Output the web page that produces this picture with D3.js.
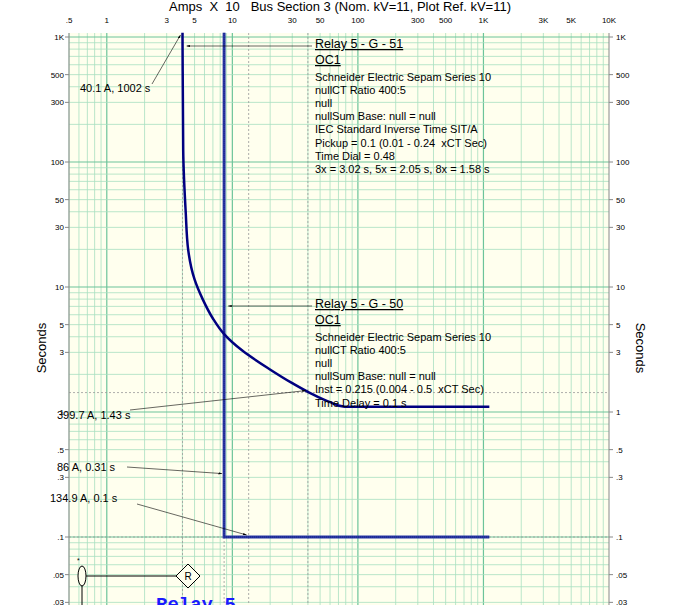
<!DOCTYPE html>
<html><head><meta charset="utf-8">
<script src="https://cdn.jsdelivr.net/npm/d3@7"></script>
<style>body{margin:0;background:#fff}</style>
</head><body>
<script>
// data (amps x 10, seconds)
var xTicks = [0.5,1,3,5,10,30,50,100,300,500,1000,3000,5000,10000];
var xTickLabels = [".5","1","3","5","10","30","50","100","300","500","1K","3K","5K","10K"];
var yTicks = [1000,500,300,100,50,30,10,5,3,1,0.5,0.3,0.1,0.05,0.03];
var yTickLabels = ["1K","500","300","100","50","30","10","5","3","1",".5",".3",".1",".05",".03"];
var curve51 = [[4.01,1080],[4.01,1002],[4.03,400],[4.06,125],[4.25,40],[4.45,19.8],[5.0,11.5],[5.8,8.0],[7.0,5.6],[8.6,4.2],[12,3.1],[19.8,2.2],[30,1.7],[41,1.43],[60,1.2],[78.5,1.1],[1114,1.1]];
var curve50 = [[8.6,1080],[8.6,0.1],[1114,0.1]];
var block51 = ["Schneider Electric Sepam Series 10","nullCT Ratio 400:5","null","nullSum Base: null = null","IEC Standard Inverse Time SIT/A","Pickup = 0.1 (0.01 - 0.24  xCT Sec)","Time Dial = 0.48","3x = 3.02 s, 5x = 2.05 s, 8x = 1.58 s"];
var block50 = ["Schneider Electric Sepam Series 10","nullCT Ratio 400:5","null","nullSum Base: null = null","Inst = 0.215 (0.004 - 0.5  xCT Sec)","Time Delay = 0.1 s"];
var callouts = [
  {text:"40.1 A, 1002 s", a:4.01, t:1002, lx:80, ly:92, sx:152, sy:84},
  {text:"399.7 A, 1.43 s", a:39.97, t:1.43, lx:57, ly:419, sx:130, sy:410},
  {text:"86 A, 0.31 s", a:8.6, t:0.31, lx:57, ly:471, sx:127, sy:467},
  {text:"134.9 A, 0.1 s", a:13.49, t:0.1, lx:50, ly:502, sx:137, sy:504}
];

var W = 700, H = 605;
var x = d3.scaleLog().domain([0.5,10000]).range([69,609]);
var y = d3.scaleLog().domain([0.01,1000]).range([662,37]);
var plotTop = 33, plotBot = 605;

var svg = d3.select("body").append("svg").attr("width",W).attr("height",H)
  .style("font-family","Liberation Sans, Arial, sans-serif");
svg.append("defs").append("marker").attr("id","ah").attr("viewBox","0 0 10 10")
  .attr("refX",10).attr("refY",5).attr("markerWidth",6).attr("markerHeight",6).attr("orient","auto")
  .append("path").attr("d","M0,2L10,5L0,8z").attr("fill","#000");

svg.append("rect").attr("x",69).attr("y",plotTop).attr("width",540).attr("height",plotBot-plotTop).attr("fill","#ffffee");

// grid
var g = svg.append("g");
for (var d = 0.1; d < 10000; d *= 10) for (var k = 1; k < 10; k++) {
  var v = d*k; if (v < 0.5 || v > 10000) continue;
  g.append("line").attr("x1",x(v)).attr("x2",x(v)).attr("y1",plotTop).attr("y2",plotBot)
    .attr("stroke", k==1 ? "#6cc49a" : "#a8e0c0").attr("stroke-width", k==1 ? 1.2 : 0.8);
}
for (var d = 0.01; d < 1000; d *= 10) for (var k = 1; k < 10; k++) {
  var v = d*k; if (y(v) < plotTop || y(v) > plotBot) continue;
  g.append("line").attr("x1",69).attr("x2",609).attr("y1",y(v)).attr("y2",y(v))
    .attr("stroke", k==1 ? "#6cc49a" : "#a8e0c0").attr("stroke-width", k==1 ? 1.2 : 0.8);
}
g.append("line").attr("x1",69).attr("x2",609).attr("y1",y(1000)).attr("y2",y(1000)).attr("stroke","#6cc49a");
// dotted reference lines
[4.01,8.6,13.49,39.97].forEach(function(v){
  g.append("line").attr("x1",x(v)).attr("x2",x(v)).attr("y1",plotTop).attr("y2",plotBot)
    .attr("stroke","#999").attr("stroke-dasharray","2,2").attr("stroke-width",0.8);
});
[1.43,0.1].forEach(function(v){
  g.append("line").attr("x1",69).attr("x2",609).attr("y1",y(v)).attr("y2",y(v))
    .attr("stroke","#999").attr("stroke-dasharray","2,2").attr("stroke-width",0.8);
});
// frame
svg.append("line").attr("x1",69).attr("x2",69).attr("y1",plotTop).attr("y2",plotBot).attr("stroke","#888");
svg.append("line").attr("x1",609).attr("x2",609).attr("y1",plotTop).attr("y2",plotBot).attr("stroke","#888");

// tick labels
svg.selectAll(".xt").data(xTicks).enter().append("text").attr("x",function(d){return x(d);}).attr("y",23)
  .attr("text-anchor","middle").attr("font-size",8).text(function(d,i){return xTickLabels[i];});
svg.selectAll(".yl").data(yTicks).enter().append("text").attr("x",64).attr("y",function(d){return y(d)+3;})
  .attr("text-anchor","end").attr("font-size",8).text(function(d,i){return yTickLabels[i];});
svg.selectAll(".yr").data(yTicks).enter().append("text").attr("x",616).attr("y",function(d){return y(d)+3;})
  .attr("font-size",8).text(function(d,i){return yTickLabels[i];});
svg.selectAll(".ytl").data(yTicks).enter().append("line").attr("x1",65).attr("x2",69)
  .attr("y1",function(d){return y(d);}).attr("y2",function(d){return y(d);}).attr("stroke","#888");
svg.selectAll(".ytr").data(yTicks).enter().append("line").attr("x1",609).attr("x2",613)
  .attr("y1",function(d){return y(d);}).attr("y2",function(d){return y(d);}).attr("stroke","#888");

svg.append("text").attr("x",340).attr("y",11).attr("text-anchor","middle").attr("font-size",13)
  .attr("xml:space","preserve").text("Amps  X  10   Bus Section 3 (Nom. kV=11, Plot Ref. kV=11)");
svg.append("text").attr("transform","translate(46,348) rotate(-90)").attr("text-anchor","middle").attr("font-size",13).text("Seconds");
svg.append("text").attr("transform","translate(636,348) rotate(90)").attr("text-anchor","middle").attr("font-size",13).text("Seconds");

// curves
var line = d3.line().x(function(d){return x(d[0]);}).y(function(d){return y(d[1]);});
svg.append("path").datum(curve50).attr("d",line).attr("fill","none").attr("stroke","#2a3aa8").attr("stroke-width",3);
svg.append("path").datum(curve50).attr("d",line).attr("fill","none").attr("stroke","#0c1470").attr("stroke-width",0.8).attr("stroke-dasharray","1,1");
svg.append("path").datum(curve51).attr("d",d3.line().x(function(d){return x(d[0]);}).y(function(d){return y(d[1]);}).curve(d3.curveMonotoneY))
  .attr("fill","none").attr("stroke","#000080").attr("stroke-width",2.5);

// text blocks
function block(y0, title, lines, target){
  svg.append("text").attr("x",315).attr("y",y0).attr("font-size",12.5).attr("text-decoration","underline").text(title);
  svg.append("text").attr("x",315).attr("y",y0+16).attr("font-size",12.5).attr("text-decoration","underline").text("OC1");
  lines.forEach(function(s,i){
    svg.append("text").attr("x",315).attr("y",y0+33+i*13.1).attr("font-size",11).attr("xml:space","preserve").text(s);
  });
  svg.append("line").attr("x1",312).attr("y1",y0-2).attr("x2",target).attr("y2",y0-2)
    .attr("stroke","#000").attr("stroke-width",0.6).attr("marker-end","url(#ah)");
}
block(48,"Relay 5 - G - 51",block51,x(4.01)+4);
block(308,"Relay 5 - G - 50",block50,x(8.6)+4);

callouts.forEach(function(c){
  svg.append("text").attr("x",c.lx).attr("y",c.ly).attr("font-size",11).text(c.text);
  svg.append("line").attr("x1",c.sx).attr("y1",c.sy).attr("x2",x(c.a)-2).attr("y2",y(c.t)-2)
    .attr("stroke","#000").attr("stroke-width",0.6).attr("marker-end","url(#ah)");
});

// one-line symbol
svg.append("line").attr("x1",82).attr("x2",82).attr("y1",566).attr("y2",605).attr("stroke","#000");
svg.append("ellipse").attr("cx",82).attr("cy",576).attr("rx",4).attr("ry",10).attr("fill","#ffffee").attr("stroke","#000");
svg.append("text").attr("x",77).attr("y",563).attr("font-size",7).text("*");
svg.append("line").attr("x1",86).attr("x2",176).attr("y1",576).attr("y2",576).attr("stroke","#000");
svg.append("path").attr("d","M176,576L188,564L200,576L188,588Z").attr("fill","#ffffee").attr("stroke","#000");
svg.append("text").attr("x",188).attr("y",580).attr("text-anchor","middle").attr("font-size",10).text("R");
svg.append("text").attr("x",156).attr("y",610).attr("font-size",19).attr("font-weight","bold")
  .attr("font-family","Liberation Mono, monospace").attr("fill","#1a1aff").text("Relay 5");
</script>
</body></html>
